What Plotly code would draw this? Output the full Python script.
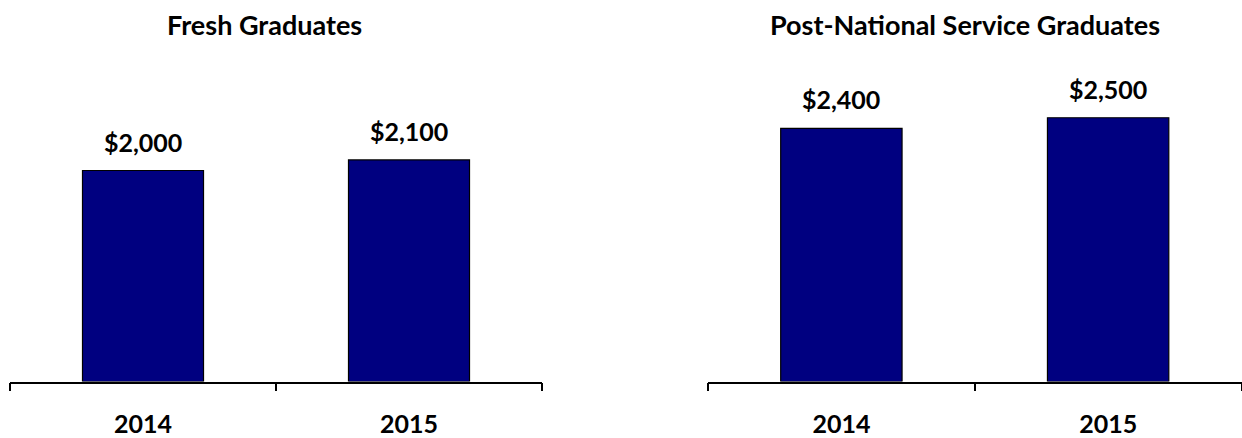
import plotly.graph_objects as go

categories = ["2014", "2015"]
fresh_values = [2000, 2100]
post_ns_values = [2400, 2500]
titles = ["Fresh Graduates", "Post-National Service Graduates"]

W, H = 1242, 438
FONT = "Lato"
BAR_COLOR = "#000080"

fig = go.Figure()

panels = [
    ("x", "y", fresh_values, [10 / W, 542 / W], 264 / W),
    ("x2", "y2", post_ns_values, [708 / W, 1241.5 / W], 965 / W),
]

ybottom = (H - 381.5) / H
ytop = (H - 65) / H

annotations = []
for i, (xa, ya, vals, dom, tx) in enumerate(panels):
    fig.add_trace(go.Bar(
        x=categories, y=vals, xaxis=xa, yaxis=ya,
        marker=dict(color=BAR_COLOR, line=dict(color="#000000", width=1.2)),
        width=0.455, showlegend=False, hoverinfo="x+y",
    ))
    for k, v in enumerate(vals):
        annotations.append(dict(
            x=k, y=v, xref=xa, yref=ya, text="&#36;" + f"{v:,}", showarrow=False,
            xanchor="center", yanchor="bottom", yshift=12,
            font=dict(family=FONT, size=25, color="#000000", weight="bold"),
        ))
    annotations.append(dict(
        x=tx, y=(H - 24) / H, xref="paper", yref="paper", text=titles[i],
        showarrow=False, xanchor="center", yanchor="middle",
        font=dict(family=FONT, size=27, color="#000000", weight="bold"),
    ))
    suffix = "" if i == 0 else "2"
    fig.layout["xaxis" + suffix] = dict(
        domain=dom, type="category", range=[-0.5, 1.5], tickson="boundaries",
        showline=True, linecolor="#000000", linewidth=1.5,
        ticks="outside", ticklen=8, tickwidth=1.5, tickcolor="#000000",
        ticklabelstandoff=20, showgrid=False, zeroline=False,
        tickfont=dict(family=FONT, size=25, color="#000000", weight="bold"),
        anchor=ya, fixedrange=True,
    )
    fig.layout["yaxis" + suffix] = dict(
        domain=[ybottom, ytop], range=[0, 3000], visible=False,
        showgrid=False, zeroline=False, anchor=xa, fixedrange=True,
    )

fig.update_layout(
    width=W, height=H, margin=dict(l=0, r=0, t=0, b=0),
    paper_bgcolor="#ffffff", plot_bgcolor="#ffffff",
    annotations=annotations, bargap=0.5,
)

fig.write_html("out.html", config={"displayModeBar": False},
               post_script="document.body.style.margin='0';")
